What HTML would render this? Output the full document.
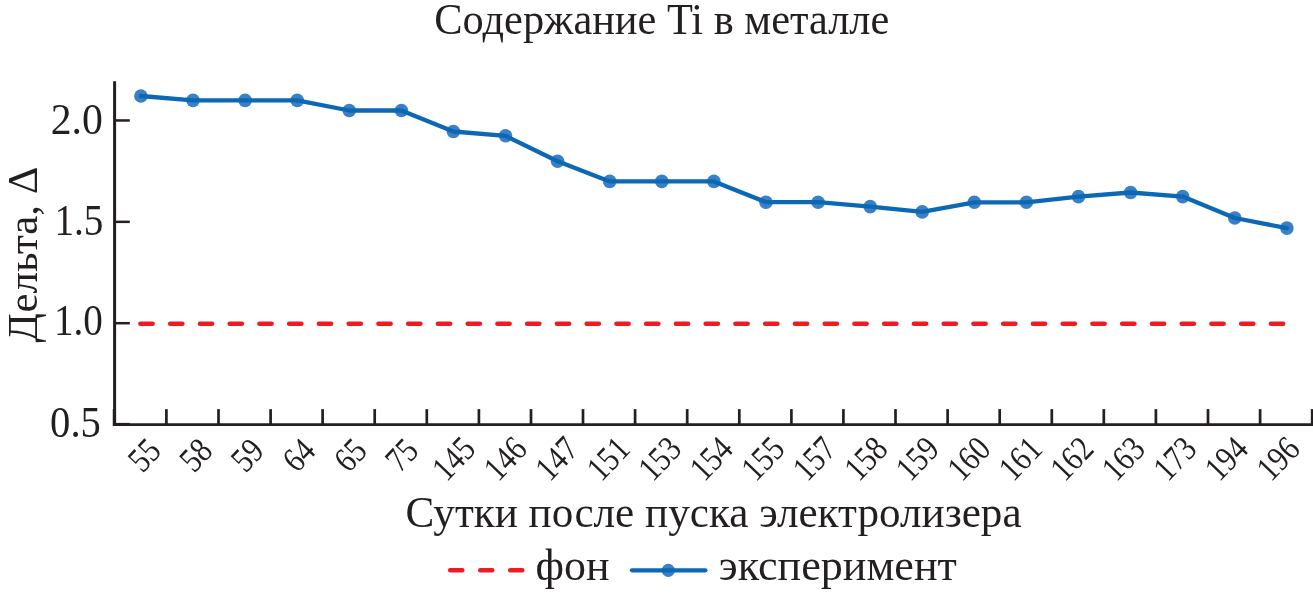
<!DOCTYPE html>
<html lang="ru"><head><meta charset="utf-8"><title>Содержание Ti в металле</title>
<style>
html,body{margin:0;padding:0;background:#fff;}
body{width:1313px;height:594px;overflow:hidden;}
svg{display:block;}
text{font-family:"Liberation Serif","DejaVu Serif",serif;fill:#231f20;}
</style></head><body>
<svg width="1313" height="594" viewBox="0 0 1313 594">
<rect width="1313" height="594" fill="#fff"/>
<text x="434.3" y="33.6" font-size="44.2" textLength="455" lengthAdjust="spacingAndGlyphs">Содержание Ti в металле</text>
<g stroke="#231f20" fill="none">
<line x1="114.6" y1="81.3" x2="114.6" y2="425.9" stroke-width="3"/>
<line x1="113.1" y1="424.55" x2="1313" y2="424.55" stroke-width="2.7"/>
<line x1="114" y1="323.20" x2="129.8" y2="323.20" stroke-width="2.5"/>
<line x1="114" y1="221.85" x2="129.8" y2="221.85" stroke-width="2.5"/>
<line x1="114" y1="120.45" x2="129.8" y2="120.45" stroke-width="2.5"/>
<line x1="113.1" y1="424.4" x2="129.8" y2="424.4" stroke-width="3"/>
<line x1="114.4" y1="409" x2="114.4" y2="425.9" stroke-width="3.3"/>
<line x1="166.4" y1="409.1" x2="166.4" y2="425" stroke-width="2.7"/>
<line x1="218.5" y1="409.1" x2="218.5" y2="425" stroke-width="2.7"/>
<line x1="270.6" y1="409.1" x2="270.6" y2="425" stroke-width="2.7"/>
<line x1="322.6" y1="409.1" x2="322.6" y2="425" stroke-width="2.7"/>
<line x1="374.7" y1="409.1" x2="374.7" y2="425" stroke-width="2.7"/>
<line x1="426.8" y1="409.1" x2="426.8" y2="425" stroke-width="2.7"/>
<line x1="478.9" y1="409.1" x2="478.9" y2="425" stroke-width="2.7"/>
<line x1="531.0" y1="409.1" x2="531.0" y2="425" stroke-width="2.7"/>
<line x1="583.0" y1="409.1" x2="583.0" y2="425" stroke-width="2.7"/>
<line x1="635.1" y1="409.1" x2="635.1" y2="425" stroke-width="2.7"/>
<line x1="687.2" y1="409.1" x2="687.2" y2="425" stroke-width="2.7"/>
<line x1="739.3" y1="409.1" x2="739.3" y2="425" stroke-width="2.7"/>
<line x1="791.4" y1="409.1" x2="791.4" y2="425" stroke-width="2.7"/>
<line x1="843.4" y1="409.1" x2="843.4" y2="425" stroke-width="2.7"/>
<line x1="895.5" y1="409.1" x2="895.5" y2="425" stroke-width="2.7"/>
<line x1="947.6" y1="409.1" x2="947.6" y2="425" stroke-width="2.7"/>
<line x1="999.7" y1="409.1" x2="999.7" y2="425" stroke-width="2.7"/>
<line x1="1051.8" y1="409.1" x2="1051.8" y2="425" stroke-width="2.7"/>
<line x1="1103.8" y1="409.1" x2="1103.8" y2="425" stroke-width="2.7"/>
<line x1="1155.9" y1="409.1" x2="1155.9" y2="425" stroke-width="2.7"/>
<line x1="1208.0" y1="409.1" x2="1208.0" y2="425" stroke-width="2.7"/>
<line x1="1260.1" y1="409.1" x2="1260.1" y2="425" stroke-width="2.7"/>
<line x1="1312.2" y1="409.1" x2="1312.2" y2="425" stroke-width="2.7"/>
</g>
<text font-size="43.5" text-anchor="end" transform="translate(100.9,436.6) scale(0.935,1)">0.5</text>
<text font-size="43.5" text-anchor="end" transform="translate(102.9,335.4) scale(0.900,1)">1.0</text>
<text font-size="43.5" text-anchor="end" transform="translate(103.4,234.5) scale(0.900,1)">1.5</text>
<text font-size="43.5" text-anchor="end" transform="translate(102.9,133.7) scale(0.960,1)">2.0</text>
<line x1="140.4" y1="323.8" x2="1283.6" y2="323.8" stroke="#ed1c24" stroke-width="4.5" stroke-linecap="round" stroke-dasharray="12.25 17.5"/>
<circle cx="140.9" cy="96.0" r="6.8" fill="#3b80c6"/>
<circle cx="193.0" cy="100.4" r="6.8" fill="#3b80c6"/>
<circle cx="245.1" cy="100.4" r="6.8" fill="#3b80c6"/>
<circle cx="297.2" cy="100.4" r="6.8" fill="#3b80c6"/>
<circle cx="349.3" cy="110.5" r="6.8" fill="#3b80c6"/>
<circle cx="401.4" cy="110.5" r="6.8" fill="#3b80c6"/>
<circle cx="453.4" cy="131.5" r="6.8" fill="#3b80c6"/>
<circle cx="505.5" cy="135.8" r="6.8" fill="#3b80c6"/>
<circle cx="557.6" cy="161.2" r="6.8" fill="#3b80c6"/>
<circle cx="609.7" cy="181.4" r="6.8" fill="#3b80c6"/>
<circle cx="661.8" cy="181.4" r="6.8" fill="#3b80c6"/>
<circle cx="713.9" cy="181.4" r="6.8" fill="#3b80c6"/>
<circle cx="766.0" cy="202.2" r="6.8" fill="#3b80c6"/>
<circle cx="818.1" cy="202.2" r="6.8" fill="#3b80c6"/>
<circle cx="870.2" cy="206.6" r="6.8" fill="#3b80c6"/>
<circle cx="922.2" cy="211.9" r="6.8" fill="#3b80c6"/>
<circle cx="974.3" cy="202.3" r="6.8" fill="#3b80c6"/>
<circle cx="1026.4" cy="202.3" r="6.8" fill="#3b80c6"/>
<circle cx="1078.5" cy="196.6" r="6.8" fill="#3b80c6"/>
<circle cx="1130.6" cy="192.5" r="6.8" fill="#3b80c6"/>
<circle cx="1182.7" cy="196.6" r="6.8" fill="#3b80c6"/>
<circle cx="1234.8" cy="218.0" r="6.8" fill="#3b80c6"/>
<circle cx="1286.9" cy="228.1" r="6.8" fill="#3b80c6"/>
<polyline fill="none" stroke="#0b68b5" stroke-width="4.3" stroke-linejoin="round" stroke-linecap="round" points="140.9,96.0 193.0,100.4 245.1,100.4 297.2,100.4 349.3,110.5 401.4,110.5 453.4,131.5 505.5,135.8 557.6,161.2 609.7,181.4 661.8,181.4 713.9,181.4 766.0,202.2 818.1,202.2 870.2,206.6 922.2,211.9 974.3,202.3 1026.4,202.3 1078.5,196.6 1130.6,192.5 1182.7,196.6 1234.8,218.0 1286.9,228.1"/>
<text font-size="35" text-anchor="end" transform="translate(162.8,452.5) rotate(-46) scale(0.84,1)" x="0" y="0">55</text>
<text font-size="35" text-anchor="end" transform="translate(214.3,452.5) rotate(-46) scale(0.84,1)" x="0" y="0">58</text>
<text font-size="35" text-anchor="end" transform="translate(265.8,452.5) rotate(-46) scale(0.84,1)" x="0" y="0">59</text>
<text font-size="35" text-anchor="end" transform="translate(317.3,452.5) rotate(-46) scale(0.84,1)" x="0" y="0">64</text>
<text font-size="35" text-anchor="end" transform="translate(368.8,452.5) rotate(-46) scale(0.84,1)" x="0" y="0">65</text>
<text font-size="35" text-anchor="end" transform="translate(420.2,452.5) rotate(-46) scale(0.84,1)" x="0" y="0">75</text>
<text font-size="35" text-anchor="end" transform="translate(477.2,450.8) rotate(-46) scale(0.84,1)" x="0" y="0">145</text>
<text font-size="35" text-anchor="end" transform="translate(528.8,450.8) rotate(-46) scale(0.84,1)" x="0" y="0">146</text>
<text font-size="35" text-anchor="end" transform="translate(580.3,450.8) rotate(-46) scale(0.84,1)" x="0" y="0">147</text>
<text font-size="35" text-anchor="end" transform="translate(631.8,450.8) rotate(-46) scale(0.84,1)" x="0" y="0">151</text>
<text font-size="35" text-anchor="end" transform="translate(683.3,450.8) rotate(-46) scale(0.84,1)" x="0" y="0">153</text>
<text font-size="35" text-anchor="end" transform="translate(734.8,450.8) rotate(-46) scale(0.84,1)" x="0" y="0">154</text>
<text font-size="35" text-anchor="end" transform="translate(786.4,450.8) rotate(-46) scale(0.84,1)" x="0" y="0">155</text>
<text font-size="35" text-anchor="end" transform="translate(837.9,450.8) rotate(-46) scale(0.84,1)" x="0" y="0">157</text>
<text font-size="35" text-anchor="end" transform="translate(889.4,450.8) rotate(-46) scale(0.84,1)" x="0" y="0">158</text>
<text font-size="35" text-anchor="end" transform="translate(940.9,450.8) rotate(-46) scale(0.84,1)" x="0" y="0">159</text>
<text font-size="35" text-anchor="end" transform="translate(992.4,450.8) rotate(-46) scale(0.84,1)" x="0" y="0">160</text>
<text font-size="35" text-anchor="end" transform="translate(1044.0,450.8) rotate(-46) scale(0.84,1)" x="0" y="0">161</text>
<text font-size="35" text-anchor="end" transform="translate(1095.5,450.8) rotate(-46) scale(0.84,1)" x="0" y="0">162</text>
<text font-size="35" text-anchor="end" transform="translate(1147.0,450.8) rotate(-46) scale(0.84,1)" x="0" y="0">163</text>
<text font-size="35" text-anchor="end" transform="translate(1198.5,450.8) rotate(-46) scale(0.84,1)" x="0" y="0">173</text>
<text font-size="35" text-anchor="end" transform="translate(1250.0,450.8) rotate(-46) scale(0.84,1)" x="0" y="0">194</text>
<text font-size="35" text-anchor="end" transform="translate(1301.6,450.8) rotate(-46) scale(0.84,1)" x="0" y="0">196</text>
<text x="405.6" y="526.6" font-size="44.2" textLength="616" lengthAdjust="spacingAndGlyphs">Сутки после пуска электролизера</text>
<text font-size="43" text-anchor="middle" transform="translate(37,254.5) rotate(-90)">Дельта, Δ</text>
<line x1="450.2" y1="570.3" x2="524" y2="570.3" stroke="#ed1c24" stroke-width="4.5" stroke-linecap="round" stroke-dasharray="12.1 17.9"/>
<text x="535.6" y="580.4" font-size="45" textLength="74" lengthAdjust="spacingAndGlyphs">фон</text>
<circle cx="668.3" cy="570.3" r="6.6" fill="#3b80c6"/>
<line x1="632" y1="570.3" x2="705.4" y2="570.3" stroke="#0b68b5" stroke-width="4.3" stroke-linecap="round"/>
<text x="718.8" y="580.4" font-size="45" textLength="238" lengthAdjust="spacingAndGlyphs">эксперимент</text>
</svg></body></html>
